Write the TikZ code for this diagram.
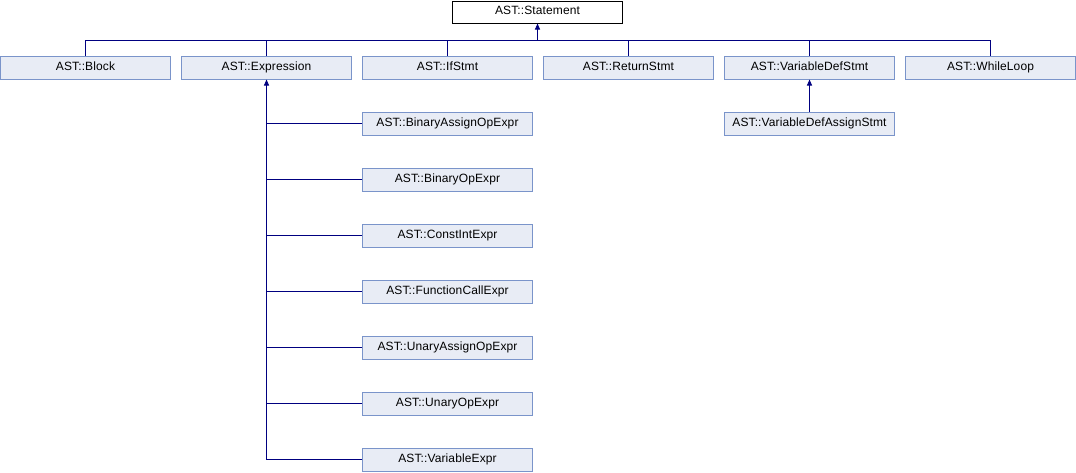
\documentclass[tikz,border=0pt]{standalone}
\usepackage{fontspec}
\setmainfont[LetterSpace=1]{Liberation Sans}
\usetikzlibrary{arrows.meta}
\definecolor{boxfill}{RGB}{232,236,245}
\definecolor{boxline}{RGB}{122,148,202}
\definecolor{edge}{RGB}{0,0,128}
\begin{document}
\begin{tikzpicture}[x=1pt,y=-1pt,
  lbl/.style={inner sep=0pt,text height=8.6pt,text depth=3.4pt,font=\fontsize{12}{14}\selectfont},
  cls/.style={lbl,draw=boxline,fill=boxfill,line width=1pt,minimum width=170pt,minimum height=23pt},
  root/.style={lbl,draw=black,fill=white,line width=1pt,minimum width=170pt,minimum height=22pt},
  conn/.style={draw=edge,line width=1pt},
  inh/.style={conn,-{Triangle[length=6pt,width=5pt]}}]
\useasboundingbox (0,0) rectangle (1076,472);
\node[root] (stmt) at (537.5,12) {AST::Statement};
\node[cls] (block) at (85.5,67.5) {AST::Block};
\node[cls] (expr) at (266.5,67.5) {AST::Expression};
\node[cls] (if) at (447.5,67.5) {AST::IfStmt};
\node[cls] (ret) at (628.5,67.5) {AST::ReturnStmt};
\node[cls] (vdef) at (809.5,67.5) {AST::VariableDefStmt};
\node[cls] (while) at (990.5,67.5) {AST::WhileLoop};
\node[cls] (vdefa) at (809.5,123.5) {AST::VariableDefAssignStmt};
\node[cls] (bao) at (447.5,123.5) {AST::BinaryAssignOpExpr};
\node[cls] (bo) at (447.5,179.5) {AST::BinaryOpExpr};
\node[cls] (ci) at (447.5,235.5) {AST::ConstIntExpr};
\node[cls] (fc) at (447.5,291.5) {AST::FunctionCallExpr};
\node[cls] (uao) at (447.5,347.5) {AST::UnaryAssignOpExpr};
\node[cls] (uo) at (447.5,403.5) {AST::UnaryOpExpr};
\node[cls] (ve) at (447.5,459.5) {AST::VariableExpr};
\coordinate (bus) at (537.5,40);
\draw[conn] (block.north) |- (while.north |- bus) -- (while.north);
\foreach \n in {expr,if,ret,vdef} \draw[conn] (\n.north) -- (\n.north |- bus);
\draw[inh] (bus) -- (stmt.south);
\draw[inh] (vdefa.north) -- (vdef.south);
\draw[inh] (ve.west) -| (expr.south);
\foreach \n in {bao,bo,ci,fc,uao,uo} \draw[conn] (\n.west) -- (\n.west -| expr.south);
\end{tikzpicture}
\end{document}
